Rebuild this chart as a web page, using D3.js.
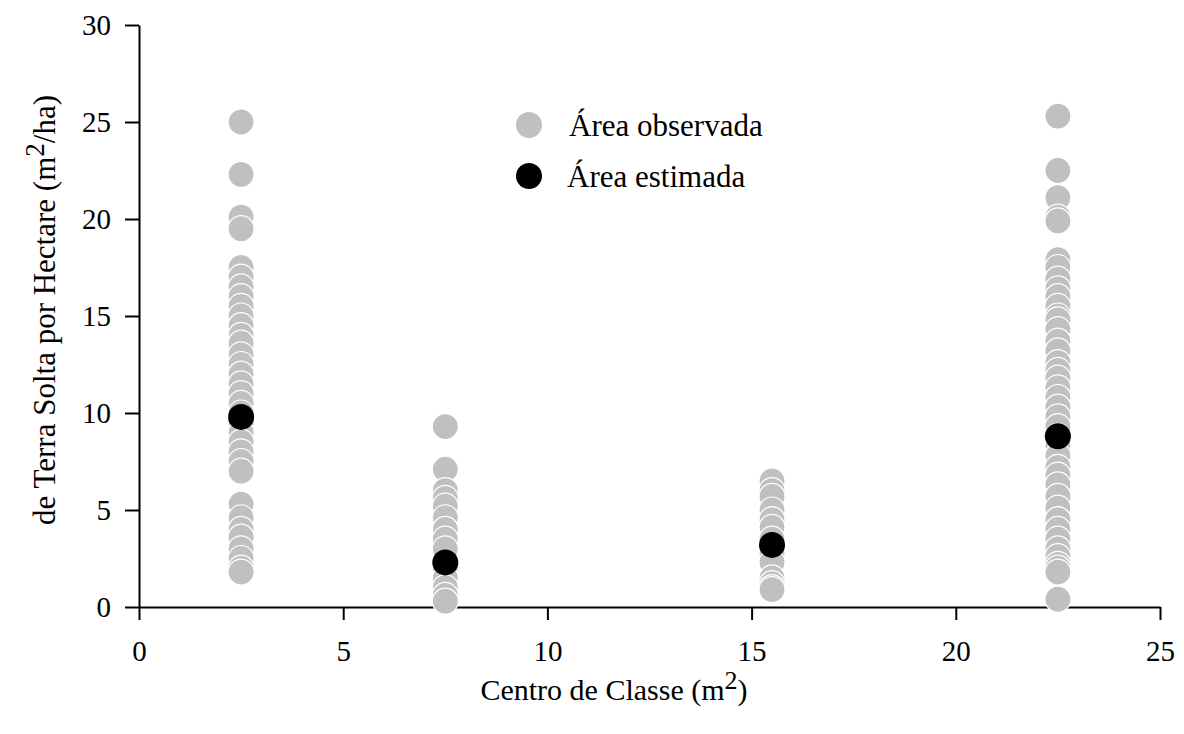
<!DOCTYPE html>
<html>
<head>
    <title>Área observada x estimada</title>
    <script src="https://d3js.org/d3.v7.min.js"></script>
    <style>
        body { margin: 0; background: #fff; }
        text { font-family: "Liberation Serif", "Times New Roman", serif; fill: #000; }
        .axis path, .axis line { stroke: #000; stroke-width: 2; }
    </style>
</head>
<body>
    <div id="chart"></div>
    <script>
        // Class centres (m2)
        const classCenters = [2.5, 7.5, 15.5, 22.5];

        // Observed area per class
        const observed1 = [25.0, 22.3, 20.1, 19.5, 17.5, 17.0, 16.5, 16.0, 15.5, 15.0, 14.5, 14.0, 13.6, 13.0, 12.5, 12.0,
            11.5, 11.0, 10.5, 10.0, 9.5, 9.0, 8.5, 8.0, 7.5, 7.0, 5.3, 4.6, 4.0, 3.6, 3.0, 2.5, 2.0, 1.8];
        const observed2 = [9.3, 7.1, 6.0, 5.6, 5.2, 4.6, 4.0, 3.5, 3.0, 2.0, 1.5, 1.0, 0.6, 0.3];
        const observed3 = [6.5, 6.0, 5.7, 5.0, 4.5, 4.1, 3.5, 2.8, 2.3, 1.5, 1.2, 1.0, 0.9];
        const observed4 = [25.3, 22.5, 21.1, 20.1, 19.9, 17.9, 17.5, 16.9, 16.4, 16.0, 15.5, 15.0, 14.8, 14.3, 13.7, 13.2,
            12.6, 12.2, 11.8, 11.3, 10.8, 10.3, 9.8, 9.3, 8.8, 8.3, 7.8, 7.2, 6.8, 6.3, 5.7, 5.1, 4.5, 4.0, 3.5, 3.0,
            2.6, 2.2, 2.0, 1.8, 0.4];

        // Estimated area per class
        const estimated = [9.8, 2.3, 3.2, 8.8];

        const xTicks = [0, 5, 10, 15, 20, 25];
        const yTicks = [0, 5, 10, 15, 20, 25, 30];

        const width = 1184, height = 734;
        const margin = { left: 139, right: 24, top: 25, bottom: 127 };

        const svg = d3.select('#chart').append('svg')
            .attr('width', width)
            .attr('height', height);

        const x = d3.scaleLinear().domain([0, 25]).range([margin.left, width - margin.right]);
        const y = d3.scaleLinear().domain([0, 30]).range([height - margin.bottom, margin.top]);

        // Axes
        svg.append('g')
            .attr('class', 'axis x')
            .attr('transform', `translate(0,${y(0)})`)
            .call(d3.axisBottom(x).tickValues(xTicks).tickSize(13).tickSizeOuter(0).tickPadding(20));
        svg.append('g')
            .attr('class', 'axis y')
            .attr('transform', `translate(${x(0)},0)`)
            .call(d3.axisLeft(y).tickValues(yTicks).tickSize(14).tickSizeOuter(0).tickPadding(14));
        svg.selectAll('.axis text')
            .attr('font-size', null).attr('font-family', null)
            .style('font-size', '29px');
        svg.selectAll('.axis.y text').attr('dy', '0.33em');

        // Observed points
        const observedSets = [observed1, observed2, observed3, observed4];
        const obsPoints = [];
        observedSets.forEach((vals, i) => vals.forEach(v => obsPoints.push({ x: classCenters[i], y: v })));

        svg.append('g').selectAll('circle')
            .data(obsPoints)
            .join('circle')
            .attr('cx', d => x(d.x))
            .attr('cy', d => y(d.y))
            .attr('r', 13)
            .attr('fill', '#c0c0c0')
            .attr('stroke', '#fff')
            .attr('stroke-width', 1.2);

        // Estimated points
        svg.append('g').selectAll('circle')
            .data(estimated.map((v, i) => ({ x: classCenters[i], y: v })))
            .join('circle')
            .attr('cx', d => x(d.x))
            .attr('cy', d => y(d.y))
            .attr('r', 13)
            .attr('fill', '#000');

        // Legend
        const legend = svg.append('g').attr('transform', 'translate(529,125)');
        legend.append('circle').attr('cx', 0).attr('cy', 0).attr('r', 13).attr('fill', '#c0c0c0');
        legend.append('text').attr('x', 40).attr('y', 0).attr('dy', '0.35em')
            .style('font-size', '31px').text('Área observada');
        legend.append('circle').attr('cx', 0).attr('cy', 51).attr('r', 13).attr('fill', '#000');
        legend.append('text').attr('x', 38).attr('y', 51).attr('dy', '0.35em')
            .style('font-size', '31px').text('Área estimada');

        // X label
        const xl = svg.append('text')
            .attr('x', 614).attr('y', 700)
            .attr('text-anchor', 'middle')
            .style('font-size', '30px');
        xl.append('tspan').text('Centro de Classe (m');
        xl.append('tspan').attr('dy', -11).style('font-size', '26px').text('2');
        xl.append('tspan').attr('dy', 11).text(')');

        // Y label
        const yl = svg.append('text')
            .attr('transform', 'translate(55,310) rotate(-90)')
            .attr('text-anchor', 'middle')
            .style('font-size', '31px');
        yl.append('tspan').text('de Terra Solta por Hectare (m');
        yl.append('tspan').attr('dy', -11).style('font-size', '27px').text('2');
        yl.append('tspan').attr('dy', 11).text('/ha)');
    </script>
</body>
</html>
